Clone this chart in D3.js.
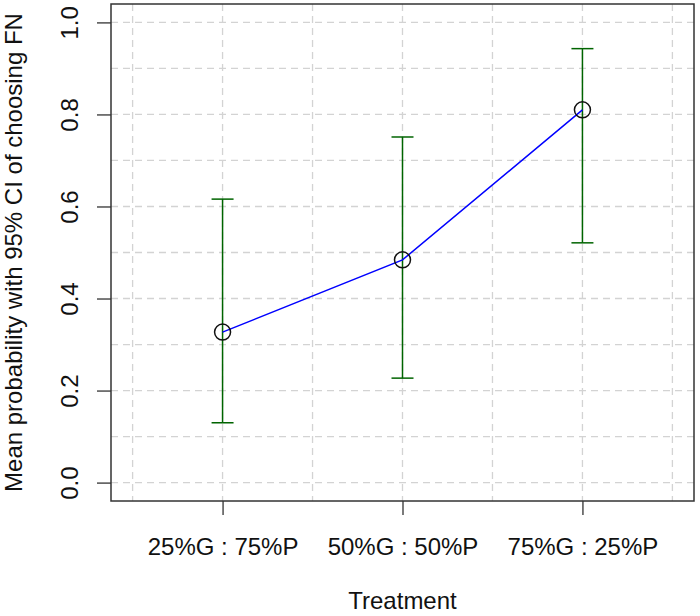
<!DOCTYPE html>
<html><head><meta charset="utf-8">
<script src="https://d3js.org/d3.v7.min.js"></script>
<style>body{margin:0;background:#fff}svg{display:block}text{font-family:"Liberation Sans",Arial,sans-serif;fill:#111}</style>
</head><body><svg id="c" width="700" height="616"></svg>
<script>
const categories = ["25%G : 75%P", "50%G : 50%P", "75%G : 25%P"];
const means = [0.327, 0.484, 0.810];
const lower = [0.130, 0.227, 0.521];
const upper = [0.616, 0.751, 0.943];
const yTicks = [0.0, 0.2, 0.4, 0.6, 0.8, 1.0];
const yGrid = [0,0.1,0.2,0.3,0.4,0.5,0.6,0.7,0.8,0.9,1.0];
const xGrid = [0.5,1,1.5,2,2.5,3,3.5];
const xLabel = "Treatment";
const yLabel = "Mean probability with 95% CI of choosing FN";

const svg = d3.select("#c");
const L = 111, R = 694, T = 4, B = 501;
const FS = 24;
const x = d3.scaleLinear().domain([0.38, 3.62]).range([L, R]);
const y = d3.scaleLinear().domain([-0.04, 1.04]).range([B, T]);

// grid
svg.append("g").selectAll("line").data(yGrid).join("line")
  .attr("x1", L).attr("x2", R).attr("y1", d => y(d)).attr("y2", d => y(d))
  .attr("stroke", "#d3d3d3").attr("stroke-width", 1.3).attr("stroke-dasharray", "7,5");
svg.append("g").selectAll("line").data(xGrid).join("line")
  .attr("y1", T).attr("y2", B).attr("x1", d => x(d)).attr("x2", d => x(d))
  .attr("stroke", "#d3d3d3").attr("stroke-width", 1.3).attr("stroke-dasharray", "7,5");

// axes
const yAxis = d3.axisLeft(y).tickValues(yTicks).tickSize(14).tickFormat(d3.format(".1f"));
const gy = svg.append("g").attr("transform", `translate(${L},0)`).call(yAxis);
gy.select(".domain").remove();
gy.selectAll("line").attr("stroke", "#333").attr("stroke-width", 1.3);
gy.selectAll("text").attr("font-size", FS).attr("fill", "#111")
  .attr("x", 0).attr("y", 0).attr("dy", 0).attr("text-anchor", "middle")
  .attr("transform", `translate(${78 - L},0) rotate(-90)`);

const xAxis = d3.axisBottom(x).tickValues([1,2,3]).tickSize(14).tickFormat((d,i) => categories[i]);
const gx = svg.append("g").attr("transform", `translate(0,${B})`).call(xAxis);
gx.select(".domain").remove();
gx.selectAll("line").attr("stroke", "#333").attr("stroke-width", 1.3);
gx.selectAll("text").attr("font-size", FS).attr("fill", "#111").attr("y", 54).attr("dy", 0);

// box
svg.append("rect").attr("x", L).attr("y", T).attr("width", R - L).attr("height", B - T)
  .attr("fill", "none").attr("stroke", "#333").attr("stroke-width", 1.5);

// error bars
const eb = svg.append("g").attr("stroke", "#006400").attr("stroke-width", 1.5);
categories.forEach((c, i) => {
  const cx = x(i + 1);
  eb.append("line").attr("x1", cx).attr("x2", cx).attr("y1", y(lower[i])).attr("y2", y(upper[i]));
  eb.append("line").attr("x1", cx - 11).attr("x2", cx + 11).attr("y1", y(lower[i])).attr("y2", y(lower[i]));
  eb.append("line").attr("x1", cx - 11).attr("x2", cx + 11).attr("y1", y(upper[i])).attr("y2", y(upper[i]));
});

// line
const line = d3.line().x((d, i) => x(i + 1)).y(d => y(d));
svg.append("path").datum(means).attr("d", line).attr("fill", "none")
  .attr("stroke", "#0000ff").attr("stroke-width", 1.5);

// points
svg.append("g").selectAll("circle").data(means).join("circle")
  .attr("cx", (d, i) => x(i + 1)).attr("cy", d => y(d)).attr("r", 8)
  .attr("fill", "none").attr("stroke", "#111").attr("stroke-width", 1.5);

// labels
svg.append("text").attr("x", (L + R) / 2).attr("y", 609).attr("text-anchor", "middle")
  .attr("font-size", FS).text(xLabel);
svg.append("text").attr("transform", `translate(22,${(T + B) / 2}) rotate(-90)`)
  .attr("text-anchor", "middle").attr("font-size", FS).text(yLabel);
</script></body></html>
